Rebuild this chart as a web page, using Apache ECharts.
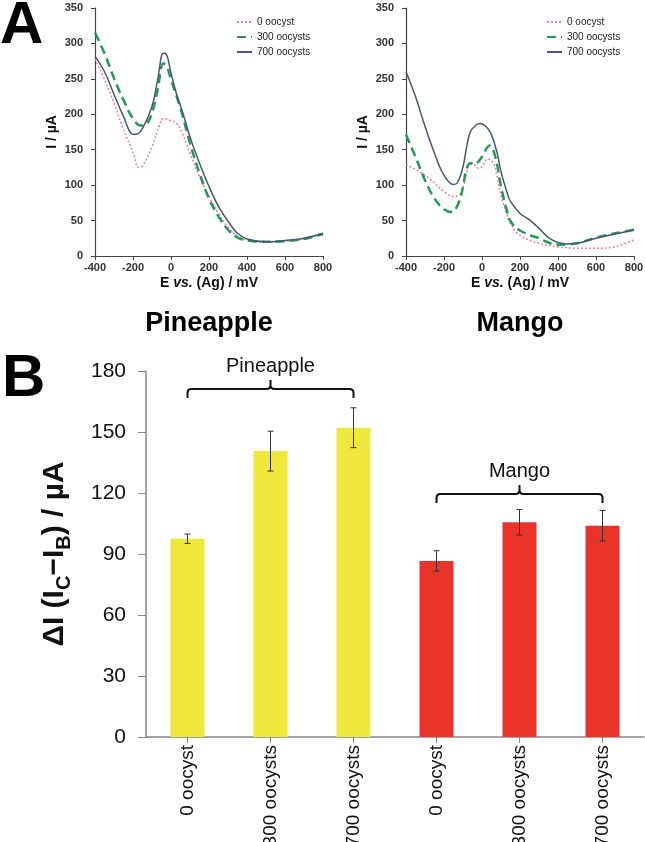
<!DOCTYPE html>
<html><head><meta charset="utf-8">
<script src="https://cdn.jsdelivr.net/npm/echarts@6/dist/echarts.min.js"></script>
<style>html,body{margin:0;padding:0;background:#fff}#c{width:645px;height:842px}</style>
</head><body><div id="c"></div>
<script>
// ---------- data ----------
const seriesNames = ['0 oocyst', '300 oocysts', '700 oocysts'];
const xTicks = [-400, -200, 0, 200, 400, 600, 800];
// [E (mV), I (µA)]
const pineapple0 = [[-400,278],[-350,249],[-300,216],[-250,178],[-200,147],[-170,125],[-150,127],[-100,154],[-60,185],[-40,194],[0,191],[30,187],[60,173],[80,159],[100,145],[150,112],[200,84],[250,60],[300,41],[350,28],[400,23],[500,19],[600,21],[700,24],[800,32]];
const pineapple300 = [[-400,315],[-350,286],[-300,251],[-250,220],[-200,194],[-160,184],[-130,186],[-100,202],[-70,235],[-40,272],[-20,266],[0,249],[30,225],[60,199],[100,159],[150,117],[200,81],[250,56],[300,37],[350,26],[400,22],[500,20],[600,21],[700,24],[800,31]];
const pineapple700 = [[-400,282],[-350,260],[-300,228],[-250,197],[-200,172],[-180,172],[-150,180],[-100,211],[-70,249],[-40,286],[-25,285],[0,258],[30,228],[60,204],[100,168],[150,131],[200,98],[250,70],[300,49],[350,32],[400,24],[500,20],[600,22],[700,25],[800,32]];
const mango0 = [[-400,129],[-300,114],[-200,91],[-150,84],[-120,86],[-100,96],[-80,117],[-60,133],[-40,129],[-20,124],[0,126],[30,137],[60,131],[80,112],[100,86],[130,60],[150,46],[200,29],[300,18],[400,13],[500,11],[600,11],[700,13],[800,23]];
const mango300 = [[-400,171],[-350,140],[-300,107],[-250,81],[-200,66],[-160,62],[-120,77],[-100,98],[-80,124],[-60,131],[-40,129],[-20,133],[0,140],[40,156],[70,140],[100,98],[130,65],[150,49],[200,36],[300,25],[400,16],[500,18],[600,26],[700,32],[800,37]];
const mango700 = [[-400,260],[-350,225],[-300,183],[-250,145],[-200,114],[-150,101],[-130,103],[-100,126],[-80,155],[-60,176],[-30,185],[-10,187],[20,183],[50,171],[80,145],[100,119],[130,91],[150,77],[200,60],[250,51],[300,39],[350,26],[400,19],[450,17],[500,18],[600,25],[700,31],[800,37]];

const barCategories = ['0 oocyst', '300 oocysts', '700 oocysts', '0 oocyst', '300 oocysts', '700 oocysts'];
const barGroups = ['Pineapple', 'Pineapple', 'Pineapple', 'Mango', 'Mango', 'Mango'];
const barValues = [97.5, 140.6, 152.1, 86.6, 105.6, 103.9];
const barErrors = [2.3, 9.8, 9.8, 5.0, 6.3, 7.5];
// [first category index, last category index, level (µA), label]
const brackets = [[0, 2, 171.1, 'Pineapple'], [3, 5, 119.5, 'Mango']];

// ---------- styles ----------
const FONT = '"Liberation Sans", Arial, sans-serif';
const lineStyles = [
  { color: '#f07ca0', width: 1.5, type: [2, 2] },
  { color: '#239b55', width: 2.5, type: [9, 5] },
  { color: '#46577a', width: 1.5, type: 'solid' }
];
const groupColors = { Pineapple: '#eee83c', Mango: '#e8322a' };

function lineSeries(name, data, idx, gi) {
  const ls = lineStyles[seriesNames.indexOf(name)];
  return {
    type: 'line', name, data, xAxisIndex: gi, yAxisIndex: gi,
    smooth: 0.4, symbol: 'none', showSymbol: false,
    lineStyle: { color: ls.color, width: ls.width, type: ls.type },
    itemStyle: { color: ls.color },
    z: 3 + idx
  };
}

function topXAxis(gi) {
  return {
    type: 'value', gridIndex: gi, min: -400, max: 800, interval: 200,
    name: '{b|E }{i|vs.}{b| (Ag) / mV}', nameLocation: 'middle', nameGap: 20,
    nameTextStyle: { rich: {
      b: { fontFamily: FONT, fontWeight: 'bold', fontSize: 14, color: '#111' },
      i: { fontFamily: FONT, fontWeight: 'bold', fontStyle: 'italic', fontSize: 14, color: '#111' } } },
    axisLine: { show: true, onZero: false, lineStyle: { color: '#444', width: 1.2 } },
    axisTick: { show: true, inside: false, length: 4, lineStyle: { color: '#444' } },
    splitLine: { show: false },
    axisLabel: { fontFamily: FONT, fontSize: 11, fontWeight: 'bold', color: '#333', margin: 6 }
  };
}
function topYAxis(gi) {
  return {
    type: 'value', gridIndex: gi, min: 0, max: 350, interval: 50,
    name: 'I / µA', nameLocation: 'middle', nameGap: 36,
    nameTextStyle: { fontFamily: FONT, fontWeight: 'bold', fontSize: 14, color: '#111' },
    axisLine: { show: true, onZero: false, lineStyle: { color: '#444', width: 1.2 } },
    axisTick: { show: true, inside: false, length: 4, lineStyle: { color: '#444' } },
    splitLine: { show: false },
    axisLabel: { fontFamily: FONT, fontSize: 11, fontWeight: 'bold', color: '#333', margin: 12 }
  };
}

const chart = echarts.init(document.getElementById('c'), null, { renderer: 'canvas' });

const legendBase = {
  top: 17, orient: 'vertical', padding: 0, itemWidth: 15, itemHeight: 10, itemGap: 5,
  data: seriesNames, itemStyle: { opacity: 0 },
  textStyle: { fontFamily: FONT, fontSize: 10, color: '#222' }
};

const option = {
  backgroundColor: '#fff',
  animation: false,
  grid: [
    { left: 95, top: 8, width: 228, height: 248, containLabel: false, outerBoundsMode: 'none' },
    { left: 406, top: 8, width: 228, height: 248, containLabel: false, outerBoundsMode: 'none' },
    { left: 146, top: 371, width: 498, height: 366, containLabel: false, outerBoundsMode: 'none' }
  ],
  legend: [
    Object.assign({ left: 236 }, legendBase),
    Object.assign({ left: 546 }, legendBase)
  ],
  xAxis: [
    topXAxis(0), topXAxis(1),
    {
      type: 'category', gridIndex: 2, data: barCategories, boundaryGap: true,
      axisLine: { show: true, lineStyle: { color: '#888', width: 1.5 } },
      axisTick: { show: true, alignWithLabel: true, length: 6, lineStyle: { color: '#888' } },
      axisLabel: { rotate: 90, fontFamily: FONT, fontSize: 19, color: '#111', margin: 8, interval: 0 }
    }
  ],
  yAxis: [
    topYAxis(0), topYAxis(1),
    {
      type: 'value', gridIndex: 2, min: 0, max: 180, interval: 30,
      name: '{t|ΔI (I}{s|C}{t|−I}{s|B}{t|) / µA}', nameLocation: 'middle', nameGap: 70,
      nameTextStyle: { rich: {
        t: { fontFamily: FONT, fontWeight: 'bold', fontSize: 30, color: '#111', verticalAlign: 'top', lineHeight: 36 },
        s: { fontFamily: FONT, fontWeight: 'bold', fontSize: 20, color: '#111', verticalAlign: 'top', lineHeight: 24, padding: [14, 0, 0, 0] } } },
      axisLine: { show: true, onZero: false, lineStyle: { color: '#888', width: 1.5 } },
      axisTick: { show: true, inside: false, length: 8, lineStyle: { color: '#888' } },
      splitLine: { show: false },
      axisLabel: { fontFamily: FONT, fontSize: 21, color: '#111', margin: 20 }
    }
  ],
  series: [
    lineSeries('0 oocyst', pineapple0, 0, 0),
    lineSeries('300 oocysts', pineapple300, 1, 0),
    lineSeries('700 oocysts', pineapple700, 2, 0),
    lineSeries('0 oocyst', mango0, 0, 1),
    lineSeries('300 oocysts', mango300, 1, 1),
    lineSeries('700 oocysts', mango700, 2, 1),
    {
      type: 'bar', xAxisIndex: 2, yAxisIndex: 2, barWidth: 34,
      data: barValues.map((v, i) => ({ value: v, itemStyle: { color: groupColors[barGroups[i]] } }))
    },
    {
      type: 'custom', xAxisIndex: 2, yAxisIndex: 2, z: 5,
      data: barValues.map((v, i) => [i, v - barErrors[i], v + barErrors[i]]),
      encode: { x: 0, y: [1, 2] },
      renderItem: function (params, api) {
        const lo = api.coord([api.value(0), api.value(1)]);
        const hi = api.coord([api.value(0), api.value(2)]);
        const x = lo[0], w = 3;
        const st = { stroke: '#333', lineWidth: 1 };
        return { type: 'group', children: [
          { type: 'line', shape: { x1: x, y1: lo[1], x2: x, y2: hi[1] }, style: st },
          { type: 'line', shape: { x1: x - w, y1: lo[1], x2: x + w, y2: lo[1] }, style: st },
          { type: 'line', shape: { x1: x - w, y1: hi[1], x2: x + w, y2: hi[1] }, style: st }
        ] };
      }
    },
    {
      type: 'custom', xAxisIndex: 2, yAxisIndex: 2, z: 6,
      data: brackets.map(b => [b[0], b[1], b[2]]),
      encode: { x: [0, 1], y: 2 },
      renderItem: function (params, api) {
        const a = api.coord([api.value(0), api.value(2)]);
        const b = api.coord([api.value(1), api.value(2)]);
        const y = a[1], x0 = a[0], x1 = b[0], xm = (x0 + x1) / 2;
        const r = 4, d = 9, up = 9;
        const p = 'M' + x0 + ' ' + (y + d) + ' L' + x0 + ' ' + (y + r) + ' Q' + x0 + ' ' + y + ' ' + (x0 + r) + ' ' + y +
          ' L' + (xm - r) + ' ' + y + ' Q' + xm + ' ' + y + ' ' + xm + ' ' + (y - r) + ' L' + xm + ' ' + (y - up) +
          ' M' + xm + ' ' + (y - r) + ' Q' + xm + ' ' + y + ' ' + (xm + r) + ' ' + y +
          ' L' + (x1 - r) + ' ' + y + ' Q' + x1 + ' ' + y + ' ' + x1 + ' ' + (y + r) + ' L' + x1 + ' ' + (y + d);
        return { type: 'group', children: [
          { type: 'path', shape: { pathData: p }, style: { stroke: '#111', lineWidth: 2, fill: null } },
          { type: 'text', style: { text: brackets[params.dataIndex][3], x: xm, y: y - 23, align: 'center', verticalAlign: 'middle',
            font: '20px ' + FONT, fill: '#111' } }
        ] };
      }
    }
  ],
  graphic: [
    { type: 'text', left: 0, top: -4, style: { text: 'A', font: 'bold 60px ' + FONT, fill: '#000' } },
    { type: 'text', left: 2, top: 349, style: { text: 'B', font: 'bold 60px ' + FONT, fill: '#000' } },
    { type: 'text', x: 209, y: 324, style: { text: 'Pineapple', font: 'bold 27px ' + FONT, fill: '#000', align: 'center', verticalAlign: 'middle' } },
    { type: 'text', x: 520, y: 324, style: { text: 'Mango', font: 'bold 27px ' + FONT, fill: '#000', align: 'center', verticalAlign: 'middle' } }
  ]
};
chart.setOption(option);
</script>
</body></html>
